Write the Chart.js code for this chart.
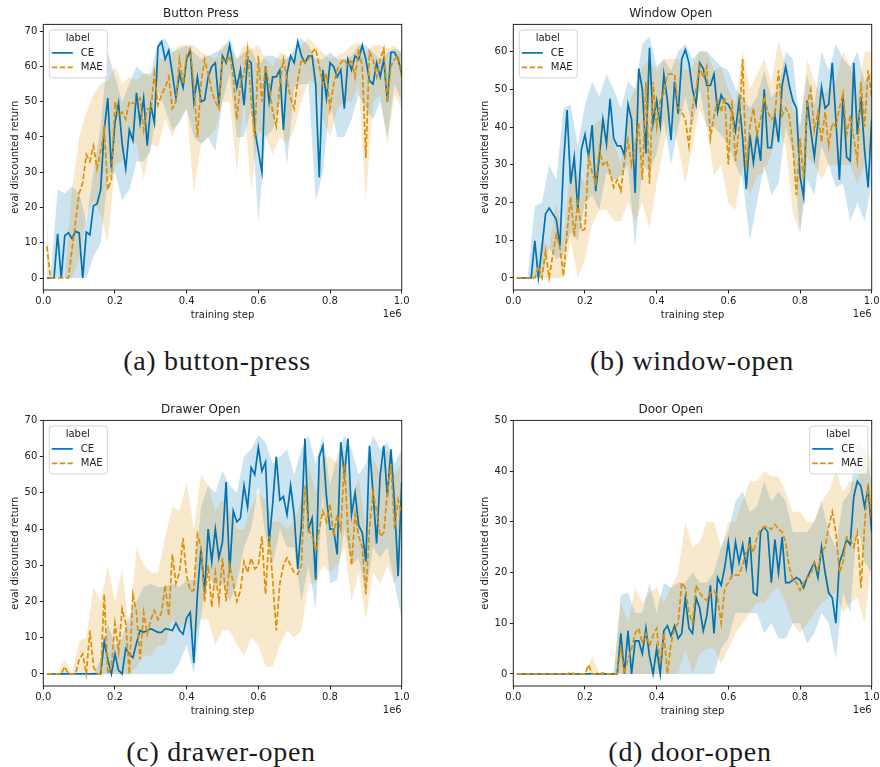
<!DOCTYPE html>
<html>
<head>
<meta charset="utf-8">
<script src="https://cdn.jsdelivr.net/npm/chart.js@4.4.1/dist/chart.umd.min.js"></script>
<style>
  body { margin: 0; background: #fff; width: 880px; height: 767px; overflow: hidden; position: relative; }
  .panel { position: absolute; width: 430px; height: 330px; overflow: hidden; }
  .cap { position: absolute; font-family: "Liberation Serif", serif; font-size: 28px; line-height: 28px;
         letter-spacing: 0.7px; color: #1a1a1a; white-space: nowrap; transform: translateX(-50%); }
</style>
</head>
<body>
<div class="panel" style="left:0;top:0"><canvas id="c0" width="430" height="330"></canvas></div>
<div class="panel" style="left:470px;top:0"><canvas id="c1" width="430" height="330"></canvas></div>
<div class="panel" style="left:0;top:396px"><canvas id="c2" width="430" height="330"></canvas></div>
<div class="panel" style="left:470px;top:396px"><canvas id="c3" width="430" height="330"></canvas></div>
<div class="cap" style="left:217px;top:347px">(a) button-press</div>
<div class="cap" style="left:692px;top:347px">(b) window-open</div>
<div class="cap" style="left:221px;top:738px">(c) drawer-open</div>
<div class="cap" style="left:690px;top:738px">(d) door-open</div>
<script>
// evaluation checkpoints (training step / 1e6)
var steps = Array.from({ length: 100 }, (_, i) => (i + 1) / 100);
var bandSteps = [0.01].concat(Array.from({ length: 50 }, (_, i) => (i + 1) / 50));
var xTicks = [0, 0.2, 0.4, 0.6, 0.8, 1.0];

// ---- Button Press ----
var buttonCE = [
  0, 0, 0, 12.5, 0, 12, 12.8, 11.2, 13.2, 12.8,
  0, 13, 12.2, 20.5, 21, 25, 42, 51, 31, 44,
  49.5, 38, 31, 42, 39, 52.5, 44, 51, 37.5, 49,
  44, 65.5, 67, 62, 64.5, 58, 51, 58, 54, 62,
  64.5, 50, 57, 50, 50.5, 57, 60, 61, 49, 63,
  61, 66, 60, 54, 59, 49, 62, 61, 42, 36,
  30, 60, 50, 57, 57, 59, 42, 58, 63, 61,
  67, 63, 61, 63, 63, 55, 28.5, 59, 51, 61,
  60, 57, 59, 48, 62, 59, 63, 62, 66, 62,
  56, 55, 61, 57, 62, 50, 64, 64, 62, 58
];
var buttonMAE = [
  9, 0, 0, 0, 0, 0, 0, 8, 16, 24,
  27, 35, 33, 37.5, 31, 36, 42, 25, 28, 50,
  46, 47, 45, 50, 49.5, 50, 51, 42, 48, 47.5,
  58, 49, 52, 54, 57, 48, 50, 62, 55, 63,
  65, 55, 40, 55, 62, 58, 53, 50, 48, 62,
  61, 63, 57, 45, 55, 58, 65, 50, 40, 63,
  50, 60, 55, 47, 43, 55, 62, 56, 51, 48,
  56, 62, 61, 62, 64, 65, 60, 55, 58, 48,
  55, 59, 61, 62, 60, 62, 57, 65, 60, 34,
  64, 62, 57, 62, 65, 50, 60, 62, 63, 57
];
var buttonCELo = [0,
  0, 0, 0, 0, 0, 0, 6, 10, 28, 30,
  22, 25, 33, 33, 36, 53, 48, 42, 44, 48,
  40, 38, 40, 36, 50, 58, 40, 40, 48, 16,
  40, 42, 50, 32, 54, 55, 55, 22, 30, 50,
  40, 40, 45, 52, 48, 45, 50, 40, 55, 50];
var buttonCEHi = [0,
  0, 25, 24, 26, 24, 16, 30, 43, 64, 57,
  50, 55, 60, 58, 58, 67, 68, 64, 65, 66,
  64, 62, 63, 64, 65, 68, 62, 64, 65, 60,
  63, 63, 62, 62, 65, 68, 66, 62, 62, 64,
  62, 62, 63, 66, 66, 64, 62, 64, 65, 64];
var buttonMAELo = [0,
  0, 0, 0, 0, 5, 18, 22, 18, 10, 32,
  33, 40, 38, 28, 38, 37, 45, 40, 45, 48,
  24, 38, 40, 42, 50, 50, 30, 50, 25, 42,
  40, 35, 40, 38, 42, 50, 56, 55, 45, 40,
  48, 50, 50, 55, 22, 50, 52, 38, 52, 48];
var buttonMAEHi = [18,
  0, 0, 0, 25, 40, 47, 52, 55, 56, 60,
  55, 57, 56, 58, 57, 62, 62, 64, 66, 66,
  66, 64, 63, 62, 66, 66, 62, 66, 65, 66,
  62, 60, 64, 63, 61, 66, 68, 66, 64, 62,
  63, 64, 66, 67, 64, 66, 66, 65, 66, 64];

// ---- Window Open ----
var windowCE = [
  0, 0, 0, 0, 0, 9.8, 0, 8, 17, 18.5,
  17, 15.5, 8.5, 30, 44.5, 25, 32, 18, 34, 38,
  32, 40.5, 23, 32, 42, 35.5, 47.5, 37, 35, 35,
  32.5, 46, 42, 22.5, 55.5, 50, 33, 61, 41, 47,
  40.5, 54, 47, 36.5, 52, 43.5, 58, 60.5, 57, 50,
  46, 57, 55.5, 51, 51, 54, 44, 48.5, 46.5, 46,
  44, 39, 47, 37, 23.5, 38, 30.5, 38, 31, 50,
  34.5, 34.5, 43, 36, 51, 56, 51, 47, 45, 27,
  21.5, 47, 39, 32, 41, 50.5, 45, 46, 57, 42,
  26, 48, 32, 31, 57, 38, 48, 34, 24, 42
];
var windowMAE = [
  0, 0, 0, 0, 0, 0, 3, 0, 7, 0,
  6, 11.5, 8, 0.5, 12, 21.5, 11, 20, 12.5, 13,
  32, 28, 25, 34, 30, 31, 28, 24, 26, 23,
  31, 36.5, 30, 35, 41, 26, 52, 25, 52, 40,
  47, 49, 54, 54, 54, 45, 44, 42, 35, 45,
  50, 56, 53, 56, 37, 43, 47, 44, 48, 30,
  47, 31, 40, 58, 29, 40, 45, 38, 42, 48,
  44, 42, 43, 55, 43, 45, 43, 35, 22, 37,
  26, 46, 50, 39, 44, 36, 44, 35, 41, 40,
  45, 49, 38, 43, 37, 31, 52, 40, 55, 48
];
var windowCELo = [0,
  0, 0, 0, 0, 8, 5, 6, 12, 10, 20,
  22, 18, 28, 26, 27, 30, 8, 30, 28, 33,
  42, 30, 40, 48, 40, 50, 40, 40, 38, 35,
  30, 26, 10, 20, 30, 22, 25, 40, 33, 12,
  26, 22, 35, 30, 24, 25, 15, 20, 15, 25];
var windowCEHi = [0,
  0, 0, 19, 20, 30, 26, 45, 46, 35, 46,
  52, 48, 54, 50, 45, 52, 50, 62, 64, 56,
  58, 55, 60, 62, 58, 60, 60, 58, 56, 55,
  50, 48, 45, 48, 55, 48, 50, 60, 58, 40,
  54, 46, 60, 55, 62, 58, 56, 60, 52, 55];
var windowMAELo = [0,
  0, 0, 0, 0, 0, 0, 0, 10, 0, 5,
  14, 18, 18, 15, 15, 20, 15, 20, 13, 25,
  35, 43, 35, 25, 35, 45, 40, 27, 30, 20,
  18, 30, 22, 27, 28, 33, 40, 35, 17, 12,
  32, 30, 26, 30, 30, 30, 30, 25, 30, 35];
var windowMAEHi = [0,
  0, 0, 2, 10, 8, 20, 10, 30, 28, 25,
  40, 42, 42, 36, 30, 46, 50, 56, 58, 55,
  58, 58, 58, 55, 56, 60, 60, 55, 56, 50,
  46, 60, 50, 54, 58, 52, 63, 56, 45, 40,
  58, 52, 48, 50, 52, 60, 56, 48, 60, 60];

// ---- Drawer Open ----
var drawerCE = [
  0, 0, 0, 0, 0, 0, 0, 0, 0, 0,
  0, 0, 0, 0, 0, 0, 9, 4, 0, 5.5,
  1, 0, 7, 5.5, 4.5, 8.5, 12, 11.5, 12, 12.5,
  12, 11.5, 11.5, 12.5, 12.3, 12, 14, 12, 11, 15.5,
  17, 3, 22, 34.5, 22.5, 40, 31, 40, 32, 36.5,
  53, 28, 45, 42, 43, 52, 46, 57, 55, 62.5,
  56, 58.5, 36, 47, 60, 48, 49, 44, 52, 44,
  29, 41, 65, 40, 43, 26, 60, 63, 49, 40,
  40, 33, 64, 55, 65, 44, 50, 41, 39, 31,
  63, 50, 36, 55, 63, 49, 62, 47, 27, 53
];
var drawerMAE = [
  0, 0, 0, 0, 0, 2, 0, 0, 0, 4,
  5.5, 0, 12, 2, 0, 0, 22, 0, 2, 14,
  6, 18, 14, 0, 22, 17, 4, 17, 11, 15,
  17.5, 15, 17, 24.5, 16, 33, 25, 28, 37.5, 27,
  23, 23, 38.5, 35, 20, 30, 18.5, 28, 20, 32,
  20, 30, 25, 20, 23, 31, 28, 32, 29, 30,
  38, 22, 38, 26, 12, 25, 30, 32, 30, 28,
  27.5, 30, 52, 40, 38, 34, 40, 45, 42, 47,
  38, 44, 40, 58, 40, 30, 44, 38, 35, 22,
  40, 50, 45, 38, 39, 50, 58, 40, 48, 44
];
var drawerCELo = [0,
  0, 0, 0, 0, 0, 0, 0, 0, 0, 0,
  0, 0, 0, 0, 0, 0, 0, 0, 3, 8,
  0, 16, 28, 24, 25, 20, 25, 35, 40, 52,
  38, 30, 40, 35, 35, 20, 30, 18, 50, 25,
  26, 40, 30, 32, 22, 35, 32, 35, 25, 15];
var drawerCEHi = [0,
  0, 0, 0, 0, 0, 0, 0, 4, 14, 8,
  10, 16, 20, 24, 25, 24, 24, 25, 24, 26,
  26, 46, 52, 50, 56, 52, 50, 60, 62, 66,
  64, 58, 60, 62, 55, 62, 66, 58, 66, 52,
  60, 66, 62, 55, 58, 66, 62, 64, 58, 62];
var drawerMAELo = [0,
  0, 0, 0, 0, 0, 0, 0, 0, 0, 0,
  0, 0, 2, 5, 5, 8, 8, 15, 12, 15,
  10, 15, 15, 8, 12, 12, 8, 5, 10, 8,
  2, 2, 8, 12, 10, 12, 25, 25, 30, 28,
  30, 35, 20, 28, 15, 28, 25, 30, 25, 30];
var drawerMAEHi = [0,
  0, 0, 4, 0, 9, 10, 24, 20, 30, 20,
  29, 12, 35, 30, 28, 28, 38, 46, 45, 53,
  40, 55, 52, 45, 48, 45, 40, 40, 46, 50,
  48, 42, 42, 40, 42, 48, 58, 50, 60, 60,
  58, 62, 48, 54, 40, 60, 55, 62, 55, 58];

// ---- Door Open ----
var doorCE = [
  0, 0, 0, 0, 0, 0, 0, 0, 0, 0,
  0, 0, 0, 0, 0, 0, 0, 0, 0, 0,
  0, 0, 0, 0, 0, 0, 0, 0, 0, 8,
  0, 8.5, 0, 6.5, 6.5, 4, 9, 3.5, 0, 5,
  0, 8.5, 9.5, 7.5, 9.5, 7, 8, 15, 9, 8,
  15, 13, 8.5, 11.5, 17.5, 8, 19, 17.5, 21, 26,
  20, 26, 22, 25.5, 21, 27, 16, 15.5, 28, 29,
  28, 18, 26.5, 20, 27, 18, 18, 18.5, 19, 18.5,
  17, 19, 20.5, 22, 19, 25, 20, 16, 15, 10,
  22, 24, 26.5, 25.5, 35, 38, 37, 33, 36.5, 28
];
var doorMAE = [
  0, 0, 0, 0, 0, 0, 0, 0, 0, 0,
  0, 0, 0, 0, 0, 0.3, 0, 0, 0, 0,
  1.8, 0, 0, 0, 0.2, 0, 0, 0, 0, 5,
  0, 3, 5, 8, 9, 6, 8, 5.5, 7.5, 9,
  2, 8, 0, 6, 9, 10, 18, 17, 12, 10,
  17.5, 16, 15, 14.5, 16, 16.5, 15, 10, 17, 18,
  19.5, 19.5, 19.5, 21.5, 24, 25.5, 24, 27, 28.5, 29,
  29, 28.5, 29.5, 28.5, 28, 26, 21, 18.5, 18, 16.5,
  18, 19, 19.5, 22, 20.5, 24, 25, 29, 32, 28,
  20, 22, 27, 26.5, 25, 28, 17, 29, 37.5, 30
];
var doorCELo = [0,
  0, 0, 0, 0, 0, 0, 0, 0, 0, 0,
  0, 0, 0, 0, 0, 0, 0, 0, 0, 0,
  0, 0, 0, 0, 0, 0, 0, 0, 5, 7,
  12, 12, 12, 12, 8, 10, 7, 7, 10, 10,
  6, 8, 12, 10, 3, 16, 12, 30, 22, 20];
var doorCEHi = [0,
  0, 0, 0, 0, 0, 0, 0, 0, 0, 0,
  0, 0, 0, 0, 15.5, 16, 12, 12, 18, 12,
  18, 17, 18, 18, 20, 18, 18, 20, 25, 28,
  34, 36, 32, 33, 38, 34, 36, 34, 28, 28,
  28, 30, 34, 28, 25, 34, 36, 46, 44, 38];
var doorMAELo = [0,
  0, 0, 0, 0, 0, 0, 0, 0, 0, 0,
  0, 0, 0, 0, 0, 0, 0, 0, 0, 0,
  0, 0, 0, 5, 0, 4, 5, 5, 2, 5,
  8, 10, 12, 14, 14, 16, 17, 14, 10, 8,
  10, 12, 14, 15, 16, 12, 14, 15, 10, 22];
var doorMAEHi = [0,
  0, 0, 0, 0, 0, 0, 0, 0, 0, 0,
  3.5, 0, 0, 0, 14, 10, 17, 14, 16, 17,
  14, 17, 20, 30, 25, 26, 30, 30, 25, 30,
  30, 34, 38, 38, 40, 39, 39, 36, 32, 32,
  30, 30, 34, 36, 40, 36, 38, 38, 45, 42];

var CE_COLOR = '#0173b2';
var MAE_COLOR = '#de8f05';
var CE_BAND = 'rgba(1, 115, 178, 0.2)';
var MAE_BAND = 'rgba(222, 143, 5, 0.2)';
var INK = '#222';

Chart.defaults.font.family = '"DejaVu Sans", sans-serif';
Chart.defaults.font.size = 10;
Chart.defaults.color = INK;

function pts(xs, ys) {
    return ys.map((y, i) => ({ x: xs[i], y: y }));
}

// frame, "1e6" offset text and the matplotlib style legend box
var decor = {
    id: 'decor',
    afterDraw(chart, args, opts) {
        var ctx = chart.ctx;
        var a = chart.chartArea;
        ctx.save();
        ctx.strokeStyle = INK;
        ctx.lineWidth = 1;
        ctx.strokeRect(a.left, a.top, a.right - a.left, a.bottom - a.top);

        ctx.fillStyle = INK;
        ctx.font = '10px "DejaVu Sans"';
        ctx.textAlign = 'right';
        ctx.textBaseline = 'middle';
        ctx.fillText('1e6', a.right, a.bottom + 24);

        var w = 58, h = 48;
        var x = opts.right ? a.right - 4.5 - w : a.left + 5.5;
        var y = a.top + 5;
        ctx.fillStyle = 'rgba(255,255,255,0.8)';
        ctx.strokeStyle = '#d4d4d4';
        ctx.beginPath();
        ctx.roundRect(x + 0.5, y + 0.5, w, h, 3);
        ctx.fill();
        ctx.stroke();

        ctx.fillStyle = INK;
        ctx.textAlign = 'center';
        ctx.fillText('label', x + w / 2, y + 9.5);
        ctx.textAlign = 'left';
        ctx.fillText('CE', x + 32, y + 24);
        ctx.fillText('MAE', x + 32, y + 38.5);

        ctx.lineWidth = 1.7;
        ctx.strokeStyle = CE_COLOR;
        ctx.beginPath();
        ctx.moveTo(x + 3, y + 23.5);
        ctx.lineTo(x + 24, y + 23.5);
        ctx.stroke();
        ctx.strokeStyle = MAE_COLOR;
        ctx.setLineDash([5.5, 2.4]);
        ctx.beginPath();
        ctx.moveTo(x + 3, y + 38);
        ctx.lineTo(x + 24, y + 38);
        ctx.stroke();
        ctx.restore();
    }
};

function makeChart(id, title, yMin, yMax, yTicks, ce, mae, ceLo, ceHi, maeLo, maeHi, legendRight) {
    var ctx = document.getElementById(id).getContext('2d');
    new Chart(ctx, {
        type: 'line',
        data: {
            datasets: [
                { data: pts(steps, mae), borderColor: MAE_COLOR, borderWidth: 1.7, borderDash: [5.5, 2.4], pointRadius: 0, fill: false },
                { data: pts(steps, ce), borderColor: CE_COLOR, borderWidth: 1.7, pointRadius: 0, fill: false },
                { data: pts(bandSteps, maeHi), borderWidth: 0, pointRadius: 0, backgroundColor: MAE_BAND, fill: '+1' },
                { data: pts(bandSteps, maeLo), borderWidth: 0, pointRadius: 0, fill: false },
                { data: pts(bandSteps, ceHi), borderWidth: 0, pointRadius: 0, backgroundColor: CE_BAND, fill: '+1' },
                { data: pts(bandSteps, ceLo), borderWidth: 0, pointRadius: 0, fill: false }
            ]
        },
        options: {
            responsive: false,
            animation: false,
            devicePixelRatio: 1,
            layout: { padding: { left: 0, right: 28.3, top: 0, bottom: 0 } },
            plugins: {
                legend: { display: false },
                tooltip: { enabled: false },
                title: {
                    display: true,
                    text: title,
                    color: INK,
                    font: { size: 12, weight: 'normal' },
                    padding: { top: 7, bottom: 3 }
                },
                decor: { right: legendRight }
            },
            scales: {
                x: {
                    type: 'linear',
                    min: 0,
                    max: 1,
                    afterBuildTicks: s => { s.ticks = xTicks.map(v => ({ value: v })); },
                    afterFit: s => { s.height = 40; },
                    ticks: { callback: v => v.toFixed(1), padding: 2, maxRotation: 0, autoSkip: false, color: INK },
                    grid: { drawOnChartArea: false, drawTicks: true, tickLength: 3.5, tickColor: INK },
                    border: { display: false },
                    title: { display: true, text: 'training step', color: INK, padding: { top: 0, bottom: 9 } }
                },
                y: {
                    min: yMin,
                    max: yMax,
                    afterBuildTicks: s => { s.ticks = yTicks.map(v => ({ value: v })); },
                    afterFit: s => { s.width = 43.3; },
                    ticks: { padding: 2.5, color: INK },
                    grid: { drawOnChartArea: false, drawTicks: true, tickLength: 3.5, tickColor: INK },
                    border: { display: false },
                    title: { display: true, text: 'eval discounted return', color: INK, padding: { top: 9, bottom: 0 } }
                }
            }
        },
        plugins: [decor]
    });
}

makeChart('c0', 'Button Press', -3.4, 71.9, [0, 10, 20, 30, 40, 50, 60, 70],
    buttonCE, buttonMAE, buttonCELo, buttonCEHi, buttonMAELo, buttonMAEHi, false);
makeChart('c1', 'Window Open', -3.2, 67.2, [0, 10, 20, 30, 40, 50, 60],
    windowCE, windowMAE, windowCELo, windowCEHi, windowMAELo, windowMAEHi, false);
makeChart('c2', 'Drawer Open', -3.33, 70, [0, 10, 20, 30, 40, 50, 60, 70],
    drawerCE, drawerMAE, drawerCELo, drawerCEHi, drawerMAELo, drawerMAEHi, false);
makeChart('c3', 'Door Open', -2.38, 50, [0, 10, 20, 30, 40, 50],
    doorCE, doorMAE, doorCELo, doorCEHi, doorMAELo, doorMAEHi, true);
</script>
</body>
</html>
